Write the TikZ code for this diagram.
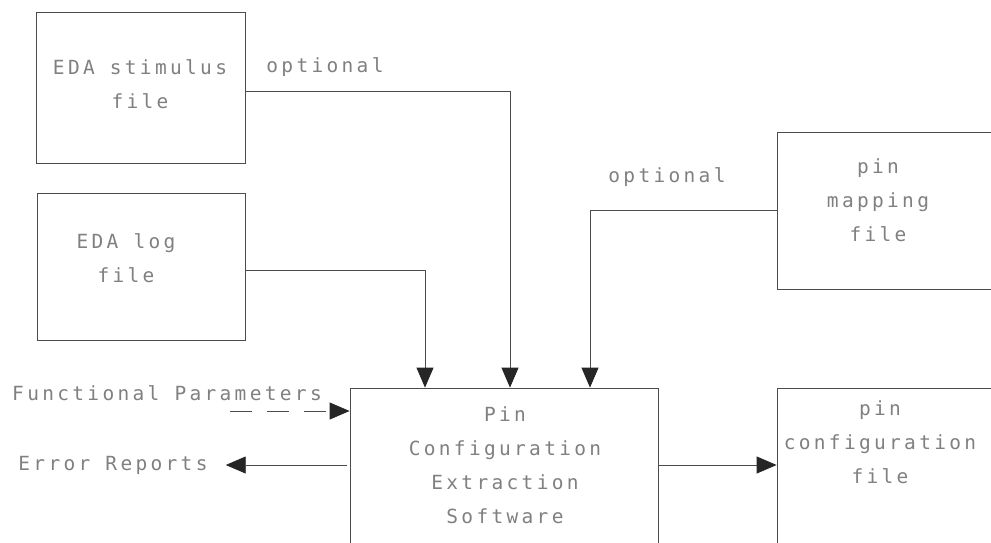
\documentclass[tikz,border=0pt]{standalone}
\usepackage{fontspec}
\usepackage{xcolor}
\usepackage{tikz}
\usetikzlibrary{arrows.meta,positioning}

\newfontfamily\plotfont[LetterSpace=17]{DejaVu Sans Mono}

\begin{document}
\begin{tikzpicture}[x=1pt, y=-1pt, every node/.style={font=\plotfont\fontsize{19.5}{34}\selectfont, align=center, text=black!50}, block/.style={rectangle, draw=black!70, line width=0.8pt, inner sep=0pt}, txt/.style={inner sep=0pt}, line/.style={-{Triangle[length=20pt, width=17pt, color=black!85, fill=black!85]}, draw=black!70, line width=0.8pt}]
\useasboundingbox (0,0) rectangle (991,542);

% boxes (some of them run off the page)
\node[block, minimum width=209pt, minimum height=151pt] (stim) at (140.5,87.5) {};
\node[block, minimum width=208pt, minimum height=147pt] (log) at (141,266.5) {};
\node[block, minimum width=250pt, minimum height=157pt] (pinmap) at (902,210.5) {};
\node[block, minimum width=308pt, minimum height=200pt] (pce) at (504,488) {};
\node[block, minimum width=250pt, minimum height=200pt] (pinconf) at (902,488) {};

% box texts
\node[txt] (stimtxt) at (140,84) {EDA stimulus\\file};
\node[txt] (logtxt) at (126,258) {EDA log\\file};
\node[txt] (pinmaptxt) at (878,200) {pin\\mapping\\file};
\node[txt] (pcetxt) at (505,465) {Pin\\Configuration\\Extraction\\Software};
\node[txt] (pinconftxt) at (880,442) {pin\\configuration\\file};

% side texts
\node[txt] (opt1) at (325,67) {optional};
\node[txt] (opt2) at (667,177) {optional};
\node[txt] (funcpar) at (167,393) {Functional Parameters};
\node[txt] (errrep) at (113,465) {Error Reports};

% levels and drop points of the connectors
\coordinate (ystim) at (0,91);
\coordinate (ylog) at (0,270);
\coordinate (ymap) at (0,210);
\coordinate (yfunc) at (0,411);
\coordinate (yout) at (0,465);
\coordinate (xlog) at (425,0);
\coordinate (xstim) at (510,0);
\coordinate (xmap) at (590,0);
\coordinate (funcstart) at (230,411);
\coordinate (errstart) at (347,465);

% inputs
\draw[line] (log.east |- ylog) -| (pce.north -| xlog);
\draw[line] (stim.east |- ystim) -| (pce.north -| xstim);
\draw[line] (pinmap.west |- ymap) -| (pce.north -| xmap);
\draw[line, dash pattern=on 22pt off 15pt] (funcstart) -- (pce.west |- yfunc);

% outputs
\draw[line] (errstart) -- ([xshift=18pt]errrep.east);
\draw[line] (pce.east |- yout) -- (pinconf.west |- yout);
\end{tikzpicture}
\end{document}
